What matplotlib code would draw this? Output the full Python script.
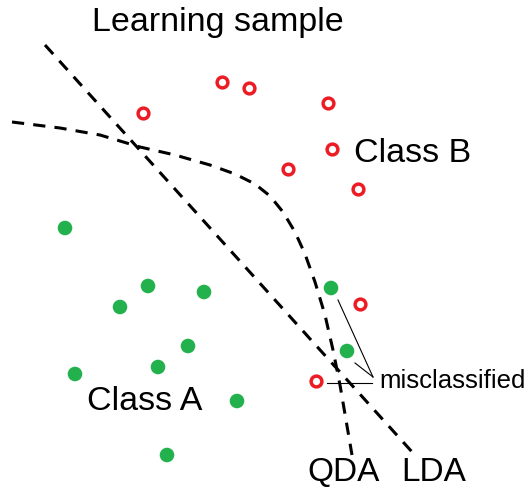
import matplotlib
matplotlib.use("Agg")
import matplotlib.pyplot as plt

plt.rcParams['font.family'] = ['Liberation Sans', 'DejaVu Sans']

# Data (pixel-like coordinates, y downward)
class_b_x = [222, 249, 143, 328, 332, 288, 358, 360, 316]
class_b_y = [82, 88, 113, 103, 149, 169, 189, 304, 381]
class_a_x = [65, 148, 120, 204, 188, 158, 75, 237, 167, 331, 347]
class_a_y = [228, 286, 307, 292, 346, 367, 374, 401, 455, 288, 351]

lda_x = [45, 413]
lda_y = [45, 453]

qda_x = [12, 60, 100, 140, 175, 210, 235, 255, 270, 283, 295, 305, 315, 325, 333, 340, 346, 352]
qda_y = [122, 128, 135, 147, 155, 165, 174, 184, 196, 212, 232, 254, 282, 315, 350, 385, 420, 455]

fig = plt.figure(figsize=(5.32, 4.98), dpi=100)
ax = fig.add_axes([0, 0, 1, 1])
ax.set_xlim(0, 532)
ax.set_ylim(498, 0)
ax.axis('off')

ax.plot(lda_x, lda_y, color='black', lw=2.2, dashes=(4, 3), solid_capstyle='butt')
ax.plot(qda_x, qda_y, color='black', lw=2.2, dashes=(4, 3))

# callout lines
ax.plot([338, 373], [300, 377], color='black', lw=0.8)
ax.plot([355, 373], [363, 377], color='black', lw=0.8)
ax.plot([327, 372], [383, 383], color='black', lw=0.8)

ax.scatter(class_b_x, class_b_y, s=60, facecolors='white', edgecolors='#ED1C24', linewidths=2.5, zorder=3)
ax.scatter(class_a_x, class_a_y, s=110, color='#22B14C', edgecolors='none', zorder=3)

ax.text(218, 22, 'Learning sample', fontsize=24.5, ha='center', va='center')
ax.text(413, 153, 'Class B', fontsize=24.5, ha='center', va='center')
ax.text(145, 401, 'Class A', fontsize=24.5, ha='center', va='center')
ax.text(344, 472, 'QDA', fontsize=24, ha='center', va='center')
ax.text(434, 472, 'LDA', fontsize=24, ha='center', va='center')
ax.text(453, 381, 'misclassified', fontsize=18.5, ha='center', va='center')

fig.savefig('out.png', dpi=100)
